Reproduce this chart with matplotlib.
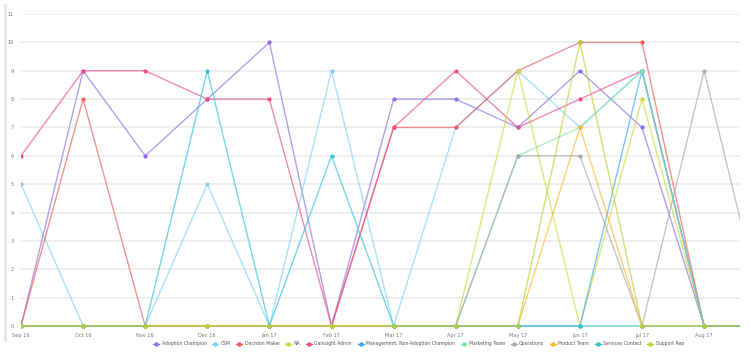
import numpy as np
import matplotlib
matplotlib.use("Agg")
import matplotlib.pyplot as plt
from matplotlib.lines import Line2D

# months (Sep 17 lies just past the right edge)
months = ['Sep 16', 'Oct 16', 'Nov 16', 'Dec 16', 'Jan 17', 'Feb 17', 'Mar 17',
          'Apr 17', 'May 17', 'Jun 17', 'Jul 17', 'Aug 17', 'Sep 17']

adoption_champion = [0, 9, 6, 8, 10, 0, 8, 8, 7, 9, 7, 0, 0]
csm               = [5, 0, 0, 5, 0, 9, 0, 7, 9, 7, 9, 0, 0]
decision_maker    = [0, 8, 0, 0, 0, 0, 7, 7, 9, 10, 10, 0, 0]
na                = [0, 0, 0, 0, 0, 0, 0, 0, 9, 0, 8, 0, 0]
gainsight_admin   = [6, 9, 9, 8, 8, 0, 7, 9, 7, 8, 9, 0, 0]
management        = [0, 0, 0, 0, 0, 0, 0, 0, 0, 0, 9, 0, 0]
marketing_team    = [0, 0, 0, 0, 0, 0, 0, 0, 6, 7, 9, 0, 0]
operations        = [0, 0, 0, 0, 0, 0, 0, 0, 6, 6, 0, 9, 0]
product_team      = [0, 0, 0, 0, 0, 0, 0, 0, 0, 7, 0, 0, 0]
services_contact  = [0, 0, 0, 9, 0, 6, 0, 0, 0, 0, 0, 0, 0]
support_rep       = [0, 0, 0, 0, 0, 0, 0, 0, 0, 10, 0, 0, 0]

names = ['Adoption Champion', 'CSM', 'Decision Maker', 'NA', 'Gainsight Admin',
         'Management, Non-Adoption Champion', 'Marketing Team', 'Operations',
         'Product Team', 'Services Contact', 'Support Rep']
series = [adoption_champion, csm, decision_maker, na, gainsight_admin, management,
          marketing_team, operations, product_team, services_contact, support_rep]
colors = ['#8c6ee6', '#7fd0f7', '#ef5a5a', '#cfd83a', '#ec4f86', '#3aaaf5',
          '#7ee8a8', '#a8a8a8', '#ffb52e', '#2cc3d6', '#bccf30']

fig = plt.figure(figsize=(7.5, 3.6), dpi=100)
ax = fig.add_axes([21 / 750, 0.0867, (740 - 21) / 750, 0.961 - 0.0867])

x = np.arange(len(months))
for vals, c in zip(series, colors):
    ax.plot(x, vals, color=c, lw=1.0, alpha=0.66, zorder=2)
    ax.plot(x, vals, ls='none', marker='o', ms=2.0, color=c, zorder=3)

ax.set_yticks(range(0, 12))
ax.set_xticks(x)
ax.set_xticklabels(months)
# limits after the ticks, so the ticks do not widen them
ax.set_xlim(0, (740 - 21) / 62.1)
ax.set_ylim(-0.1, 11)
ax.grid(axis='y', color='#eeeeee', lw=1.3, zorder=0)
ax.grid(axis='x', visible=False)
for s in ax.spines.values():
    s.set_visible(False)
ax.tick_params(axis='both', length=0, labelsize=3.6, labelcolor='#777777')
ax.tick_params(axis='y', pad=5)
ax.tick_params(axis='x', pad=3)

# light bar on the left edge
fig.add_artist(Line2D([5 / 750, 5 / 750], [20 / 360, 355 / 360], color='#e6e6e6', lw=2))

handles = [Line2D([], [], color=c, lw=1, marker='o', ms=2.2) for c in colors]
ax.legend(handles, names, loc='center', bbox_to_anchor=(0.553, -0.048), ncol=11,
          frameon=False, fontsize=3.3, handlelength=1.3, columnspacing=1.25,
          handletextpad=0.5, labelcolor='#555555')

fig.savefig('out.png', dpi=100)
